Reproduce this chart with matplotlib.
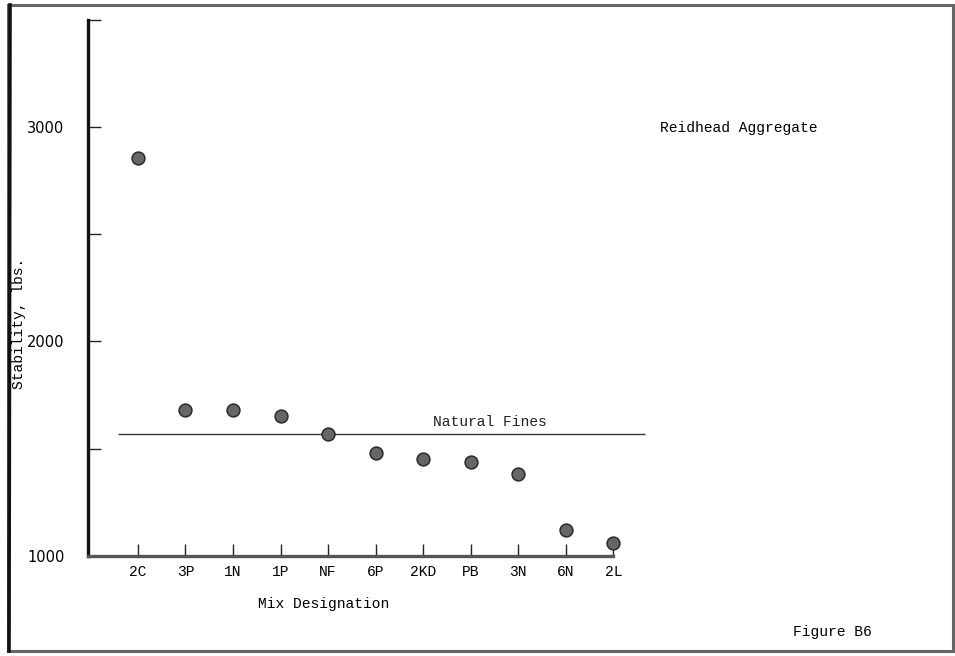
import matplotlib
matplotlib.use('Agg')
import matplotlib.pyplot as plt
from matplotlib.patches import Rectangle
from matplotlib.lines import Line2D

# mixes and Marshall stability (lbs)
mixes = ['2C', '3P', '1N', '1P', 'NF', '6P', '2KD', 'PB', '3N', '6N', '2L']
stability = [2855, 1682, 1682, 1650, 1570, 1477, 1453, 1439, 1383, 1121, 1061]
natural_fines = 1570

y_ticks = [1000, 1500, 2000, 2500, 3000, 3500]
y_labels = ['1000', '', '2000', '', '3000', '']

mono = 'Liberation Mono'


def main():
    fig = plt.figure(figsize=(9.55, 6.56), dpi=100)
    ax = fig.add_axes([0.0921, 0.1529, 0.6, 0.8166])

    xs = list(range(1, len(mixes) + 1))
    ax.scatter(xs, stability, s=85, color='#666666', edgecolors='#2a2a2a',
               linewidths=1.1, zorder=3)

    # natural fines reference line
    ax.hlines(natural_fines, 0.58, 11.67, color='#333333', lw=1.0, zorder=2)
    ax.text(8.4, natural_fines + 22, 'Natural Fines', family=mono, fontsize=10.5,
            ha='center', va='bottom', color='#222222')

    ax.set_xlim(-0.05, 12)
    ax.set_ylim(1000, 3500)
    ax.set_xticks(xs)
    ax.set_xticklabels(mixes, family=mono, fontsize=10.5)
    ax.set_yticks(y_ticks)
    ax.set_yticklabels(y_labels, fontsize=10.5)

    for side in ['top', 'right']:
        ax.spines[side].set_visible(False)
    ax.spines['left'].set_linewidth(2.4)
    ax.spines['left'].set_color('#111111')
    ax.spines['bottom'].set_linewidth(2.4)
    ax.spines['bottom'].set_color('#555555')
    ax.spines['bottom'].set_bounds(-0.05, 11)

    ax.tick_params(axis='x', direction='in', length=9, width=1.0, pad=7,
                   color='#222222')
    ax.tick_params(axis='y', direction='in', length=9, width=1.0, pad=17,
                   color='#222222')
    ax.patch.set_alpha(0)

    fig.text(19 / 955, 1 - 323 / 656, 'Stability, lbs.', family=mono,
             fontsize=10.5, rotation=90, ha='center', va='center')
    fig.text(258 / 955, 1 - 604 / 656, 'Mix Designation', family=mono,
             fontsize=10.5, ha='left', va='center')
    fig.text(660 / 955, 1 - 128 / 656, 'Reidhead Aggregate', family=mono,
             fontsize=10.5, ha='left', va='center')
    fig.text(793 / 955, 1 - 632 / 656, 'Figure B6', family=mono,
             fontsize=10.5, ha='left', va='center')

    # scanned page frame
    fig.patches.append(Rectangle((8 / 955, 5 / 656), 945 / 955, 646 / 656,
                                 transform=fig.transFigure, fill=False,
                                 edgecolor='#666666', lw=2.2))
    fig.lines.append(Line2D([9 / 955, 10 / 955], [5 / 656, 651 / 656],
                            transform=fig.transFigure, color='#111111', lw=2.6))

    fig.savefig('out.png', dpi=100)


if __name__ == '__main__':
    main()
